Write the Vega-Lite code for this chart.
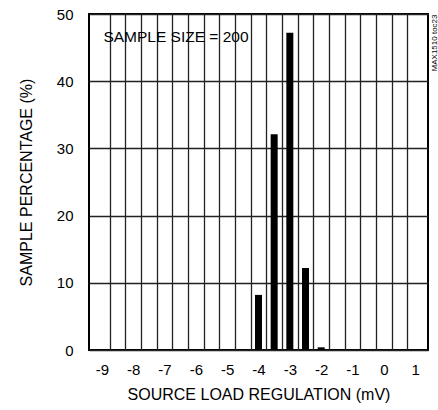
{
  "$schema": "https://vega.github.io/schema/vega-lite/v6.json",
  "width": 339,
  "height": 336,
  "autosize": "none",
  "padding": {"left": 89, "top": 14, "right": 10, "bottom": 60},
  "background": "white",
  "config": {
    "font": "Liberation Sans",
    "view": {"stroke": "black", "strokeWidth": 2},
    "axis": {"labelFont": "Liberation Sans", "titleFont": "Liberation Sans", "labelColor": "black", "titleColor": "black", "labelFontSize": 15, "titleFontSize": 16, "titleFontWeight": "normal", "gridColor": "#222", "gridOpacity": 1, "gridWidth": 1.3}
  },
  "datasets": {
    "bars": [
      {"mv": -4.0, "pct": 8.2},
      {"mv": -3.5, "pct": 32.1},
      {"mv": -3.0, "pct": 47.2},
      {"mv": -2.5, "pct": 12.2},
      {"mv": -2.0, "pct": 0.4}
    ],
    "note": [{"mv": -8.95, "pct": 46.6, "label": "SAMPLE SIZE = 200"}]
  },
  "layer": [
    {
      "data": {"name": "bars"},
      "mark": {"type": "bar", "color": "black", "size": 7},
      "encoding": {
        "x": {"field": "mv", "type": "quantitative", "scale": {"domain": [-9.25, 1.25], "nice": false, "zero": false},
          "axis": {"values": [-9, -8, -7, -6, -5, -4, -3, -2, -1, 0, 1], "labelExpr": "replace(datum.label, '\u2212', '-')", "grid": false, "ticks": false, "domain": false, "labelPadding": 12, "title": "SOURCE LOAD REGULATION (mV)", "titlePadding": 9}},
        "y": {"field": "pct", "type": "quantitative", "scale": {"domain": [0, 50], "nice": false},
          "axis": {"values": [0, 10, 20, 30, 40, 50], "grid": true, "ticks": false, "domain": false, "labelPadding": 16, "title": "SAMPLE PERCENTAGE (%)", "titlePadding": 22}}
      }
    },
    {
      "data": {"name": "note"},
      "mark": {"type": "text", "align": "left", "baseline": "middle", "fontSize": 15.5, "color": "black", "font": "Liberation Sans"},
      "encoding": {
        "x": {"field": "mv", "type": "quantitative",
          "axis": {"values": [-8.75, -8.25, -7.75, -7.25, -6.75, -6.25, -5.75, -5.25, -4.75, -4.25, -3.75, -3.25, -2.75, -2.25, -1.75, -1.25, -0.75, -0.25, 0.25, 0.75], "grid": true, "labels": false, "ticks": false, "domain": false, "title": null}},
        "y": {"field": "pct", "type": "quantitative",
          "axis": {"orient": "right", "labels": false, "ticks": false, "domain": false, "grid": false, "title": "MAX1510 toc23", "titleFontSize": 8, "titleAngle": 270, "titleAnchor": "end", "titleAlign": "right", "titleBaseline": "top", "titlePadding": 2}},
        "text": {"field": "label"}
      }
    }
  ],
  "resolve": {"axis": {"x": "independent", "y": "independent"}}
}
